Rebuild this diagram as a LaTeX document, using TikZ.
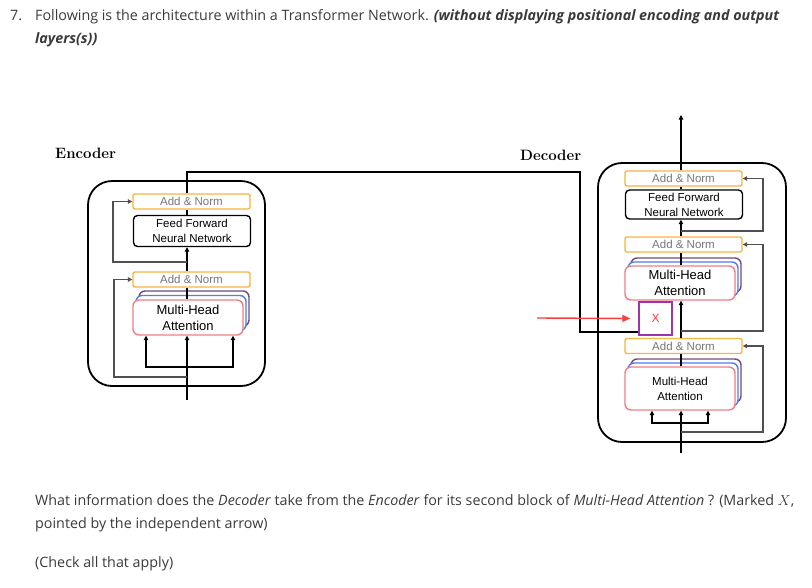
\documentclass[tikz,border=0pt]{standalone}
\usepackage{fontspec}
\usepackage{xcolor}
\usetikzlibrary{arrows.meta}
\newfontfamily\pagefont{Open Sans}
\newfontfamily\boxfont{Liberation Sans}
\definecolor{normorange}{HTML}{F7B541}
\definecolor{normgray}{HTML}{777777}
\definecolor{mhapink}{HTML}{EF7F87}
\definecolor{mhablue}{HTML}{4F7BF0}
\definecolor{mhapurple}{HTML}{6E4A7E}
\definecolor{xpurple}{HTML}{9E34AC}
\definecolor{xred}{HTML}{FF3B3B}
\definecolor{textgray}{HTML}{3A3A3A}
\definecolor{skipgray}{HTML}{505050}

\begin{document}
\begin{tikzpicture}[x=1pt,y=-1pt,
    >={Triangle[length=4.5pt,width=4.5pt]},
    outer/.style={draw=black, line width=1.8pt, rounded corners=24pt, inner sep=0pt},
    addnorm/.style={draw=normorange, line width=1.4pt, rounded corners=2pt, fill=white, minimum width=117pt, minimum height=15pt, inner sep=0pt, text=normgray, font=\boxfont\fontsize{11.5}{14}\selectfont},
    ffn/.style={draw=black, line width=1.4pt, rounded corners=4pt, fill=white, minimum width=117pt, minimum height=31pt, inner sep=0pt, align=center, font=\boxfont\fontsize{11.5}{15}\selectfont},
    mha/.style={draw=mhapink, line width=1.4pt, rounded corners=6pt, fill=white, minimum width=110pt, minimum height=35pt, inner sep=0pt, align=center, font=\boxfont\fontsize{13}{16}\selectfont},
    xbox/.style={draw=xpurple, line width=1.4pt, minimum size=33pt, inner sep=0pt, text=xred, font=\boxfont\fontsize{12}{14}\selectfont},
    wire/.style={draw=black, line width=1.3pt},
    skip/.style={draw=skipgray, line width=1.3pt},
    pointer/.style={draw=xred, line width=1.4pt, -{Triangle[length=8pt,width=7pt]}, shorten >=8pt},
    para/.style={anchor=base west, inner sep=0pt, text=textgray, font=\pagefont\fontsize{14.3}{17}\selectfont},
    blocklabel/.style={anchor=base west, inner sep=0pt, font=\bfseries\fontsize{15}{18}\selectfont}]

\useasboundingbox (0,0) rectangle (812,587);

\node [para] (num) at (10,20) {7.};
\node [para] (titleA) at (35,20) {Following is the architecture within a Transformer Network. \textbf{\textit{(without displaying positional encoding and output}}};
\node [para] (titleB) at (35,43) {\textbf{\textit{layers(s))}}};

\node [blocklabel] (enclabel) at (55,158) {Encoder};
\node [blocklabel] (declabel) at (520,160.5) {Decoder};

\node [outer, minimum width=177pt, minimum height=205pt] (encbox) at (176.5,283.5) {};
\node [addnorm] (encnormB) at (191.5,201.5) {Add \& Norm};
\node [ffn] (encffn) at (192,231) {Feed Forward\\Neural Network};
\node [addnorm] (encnormA) at (191.5,279.5) {Add \& Norm};
\node [mha, draw=mhapurple] (encmhaP) at (194,308.5) {};
\node [mha, draw=mhablue] (encmhaL) at (191,313) {};
\node [mha] (encmha) at (188,317.5) {Multi-Head\\Attention};

\coordinate (encin) at (187,400);
\coordinate (encfork) at (187,367);
\coordinate (encforkL) at (146,367);
\coordinate (encforkR) at (233,367);
\coordinate (encskipA) at (187,377);
\coordinate (encloopA) at (114,377);
\coordinate (encskipB) at (187,262);
\coordinate (encloopB) at (113,262);
\coordinate (encout) at (187,172);
\coordinate (bend) at (580,172);
\coordinate (cross) at (580,332);

\node [outer, minimum width=188pt, minimum height=279pt] (decbox) at (692,302.5) {};
\node [addnorm] (decnormC) at (683.5,178.5) {Add \& Norm};
\node [ffn, minimum height=29pt] (decffn) at (684,204.5) {Feed Forward\\Neural Network};
\node [addnorm] (decnormB) at (683.5,244.5) {Add \& Norm};
\node [mha, draw=mhapurple, minimum height=34pt] (decmhaBP) at (686,275) {};
\node [mha, draw=mhablue, minimum height=34pt] (decmhaBL) at (683,279) {};
\node [mha, minimum height=34pt] (decmhaB) at (680,283) {Multi-Head\\Attention};
\node [xbox] (xbox) at (655.5,318.5) {X};
\node [addnorm] (decnormA) at (683.5,346) {Add \& Norm};
\node [mha, draw=mhapurple, minimum height=43pt] (decmhaAP) at (686,380.5) {};
\node [mha, draw=mhablue, minimum height=43pt] (decmhaAL) at (683,384.5) {};
\node [mha, minimum height=43pt, font=\boxfont\fontsize{11.5}{15}\selectfont] (decmhaA) at (680,388.5) {Multi-Head\\Attention};

\coordinate (decin) at (681,453);
\coordinate (decfork) at (681,423);
\coordinate (decforkL) at (652,423);
\coordinate (decforkR) at (708,423);
\coordinate (decskipA) at (681,432);
\coordinate (decloopA) at (763,432);
\coordinate (decskipB) at (681,331);
\coordinate (decloopB) at (763,331);
\coordinate (decskipC) at (681,231);
\coordinate (decloopC) at (763,231);
\coordinate (decout) at (681,115);
\coordinate (hint) at (537,318);

\draw [wire] (encin) -- (encfork);
\draw [wire,->] (encfork) -- (encfork |- encmha.south);
\draw [wire,->] (encfork) -- (encforkL) -- (encforkL |- encmha.south);
\draw [wire,->] (encfork) -- (encforkR) -- (encforkR |- encmha.south);
\draw [skip,->] (encskipA) -- (encloopA) |- (encnormA.west);
\draw [wire] (encmha.north -| encin) -- (encnormA.south -| encin);
\draw [wire,->] (encnormA.north -| encin) -- (encffn.south -| encin);
\draw [skip,->] (encskipB) -- (encloopB) |- (encnormB.west);
\draw [wire] (encffn.north -| encin) -- (encnormB.south -| encin);
\draw [wire] (encnormB.north -| encin) -- (encout) -- (bend) -- (cross) -- (cross -| xbox.west);

\draw [wire] (decin) -- (decfork);
\draw [wire,->] (decfork) -- (decfork |- decmhaA.south);
\draw [wire,->] (decfork) -- (decforkL) -- (decforkL |- decmhaA.south);
\draw [wire,->] (decfork) -- (decforkR) -- (decforkR |- decmhaA.south);
\draw [skip,->] (decskipA) -- (decloopA) |- (decnormA.east);
\draw [wire] (decmhaA.north -| decin) -- (decnormA.south -| decin);
\draw [wire,->] (decnormA.north -| decin) -- (decmhaB.south -| decin);
\draw [skip,->] (decskipB) -- (decloopB) |- (decnormB.east);
\draw [wire] (decmhaB.north -| decin) -- (decnormB.south -| decin);
\draw [wire,->] (decnormB.north -| decin) -- (decffn.south -| decin);
\draw [skip,->] (decskipC) -- (decloopC) |- (decnormC.east);
\draw [wire] (decffn.north -| decin) -- (decnormC.south -| decin);
\draw [wire,->] (decnormC.north -| decin) -- (decout);

\draw [pointer] (hint) -- (xbox.west);

\node [para] (askA) at (35,505) {What information does the \textit{Decoder} take from the \textit{Encoder} for its second block of \textit{Multi-Head Attention} ? (Marked $X$,};
\node [para] (askB) at (35,528) {pointed by the independent arrow)};
\node [para] (askC) at (35,567) {(Check all that apply)};
\end{tikzpicture}
\end{document}
